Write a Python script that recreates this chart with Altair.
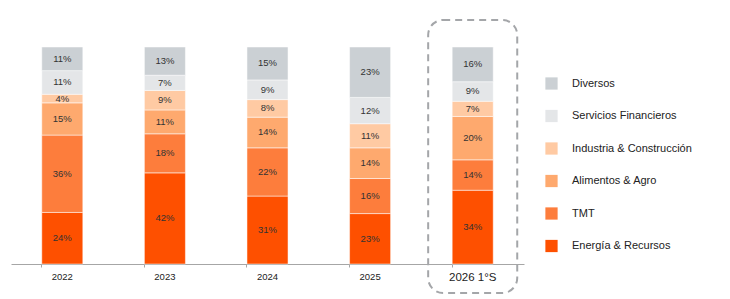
import altair as alt
import pandas as pd

years = ["2022", "2023", "2024", "2025", "2026 1°S"]

# sectors listed from the bottom of each stack to the top
sectors = ["Energía & Recursos", "TMT", "Alimentos & Agro",
           "Industria & Construcción", "Servicios Financieros", "Diversos"]
colors = ["#fe5000", "#fd7d3c", "#fea96e", "#ffcaa3", "#e4e6e8", "#cbd0d4"]

energia = [24, 42, 31, 23, 34]
tmt = [36, 18, 22, 16, 14]
alimentos = [15, 11, 14, 14, 20]
industria = [4, 9, 8, 11, 7]
servicios = [11, 7, 9, 12, 9]
diversos = [11, 13, 15, 23, 16]

series = [energia, tmt, alimentos, industria, servicios, diversos]

rows = []
for i, (sector, vals) in enumerate(zip(sectors, series)):
    for year, v in zip(years, vals):
        rows.append({"year": year, "sector": sector, "order": i, "value": v})
df = pd.DataFrame(rows)

FONT = "Liberation Sans"

x_enc = alt.X(
    "year:N",
    sort=years,
    title=None,
    scale=alt.Scale(paddingInner=0.6, paddingOuter=0.3),
    axis=alt.Axis(
        labelAngle=0,
        labelFont=FONT,
        labelFontSize={"condition": {"test": "datum.value == '2026 1°S'", "value": 11.5}, "value": 9.5},
        labelColor="#222222",
        labelPadding=4,
        domainColor="#a6a6a6",
        tickColor="#a6a6a6",
        tickSize=3,
        bandPosition=0,
        grid=False,
    ),
)

base = alt.Chart(df).transform_joinaggregate(
    total="sum(value)", groupby=["year"]
).transform_window(
    cum="sum(value)", groupby=["year"], sort=[alt.SortField("order")],
    frame=[None, 0]
).transform_calculate(
    hi="datum.cum / datum.total",
    lo="(datum.cum - datum.value) / datum.total",
    mid="(datum.cum - datum.value / 2) / datum.total",
    label="datum.value + '%'",
)

y_scale = alt.Scale(domain=[0, 1])

bars = base.mark_bar(stroke="white", strokeWidth=0.5).encode(
    x=x_enc,
    y=alt.Y("lo:Q", scale=y_scale, axis=None),
    y2="hi:Q",
    color=alt.Color(
        "sector:N",
        scale=alt.Scale(domain=sectors[::-1], range=colors[::-1]),
        legend=alt.Legend(
            title=None,
            orient="none",
            legendX=534,
            legendY=30,
            symbolType="square",
            symbolSize=150,
            symbolStrokeWidth=0,
            labelFont=FONT,
            labelFontSize=11,
            labelColor="#222222",
            labelOffset=14,
            rowPadding=19.5,
            padding=0,
        ),
    ),
)

labels = base.mark_text(font=FONT, fontSize=9.5, color="#333333").encode(
    x=alt.X("year:N", sort=years),
    y=alt.Y("mid:Q", scale=y_scale),
    text="label:N",
)

# dashed rounded frame around the half-year column
frame_df = pd.DataFrame({"year": [years[-1]]})
frame = alt.Chart(frame_df).mark_bar(
    fillOpacity=0,
    stroke="#a4a6a9",
    strokeWidth=2,
    strokeDash=[7, 5],
    cornerRadius=15,
    width=alt.RelativeBandSize(2.17),
).encode(
    x=alt.X("year:N", sort=years),
    y=alt.value(-27),
    y2=alt.value(246),
)

chart = alt.layer(bars, labels, frame).properties(
    width=513,
    height=217,
    autosize=alt.AutoSizeParams(type="none"),
    padding={"left": 11, "top": 47, "right": 206, "bottom": 35},
).configure_view(stroke=None)

chart.save("out.html", embed_options={"renderer": "svg", "actions": False})
